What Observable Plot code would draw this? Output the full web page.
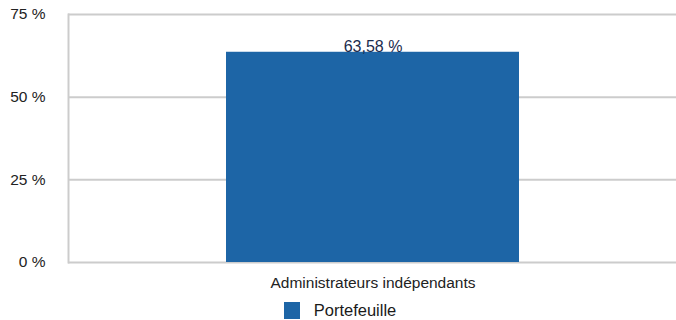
<!DOCTYPE html>
<html>
<head>
<meta charset="utf-8">
<script src="https://cdn.jsdelivr.net/npm/d3@7"></script>
<script src="https://cdn.jsdelivr.net/npm/@observablehq/plot@0.6"></script>
<style>
  html, body { margin: 0; padding: 0; background: #fff; }
  body { width: 676px; height: 320px; overflow: hidden; font-family: "Liberation Sans", Arial, sans-serif; }
  #legend { display: flex; justify-content: center; align-items: center; height: 20px; margin-top: 0px; padding-left: 4px; }
  #legend .sw { width: 16px; height: 17px; margin-right: 14px; }
  #legend .lb { font-size: 16.5px; color: #1a1a1a; }
</style>
</head>
<body>
<div id="chart"></div>
<div id="legend"></div>
<script>
const categories = ["Administrateurs indépendants"];
const seriesName = "Portefeuille";
const values = [63.58];
const yTicks = [0, 25, 50, 75];
const barColor = "#1d65a6";

const data = categories.map((c, i) => ({category: c, value: values[i]}));
const fmtPct = d => d3.format(".2f")(d).replace(".", ",") + " %";

const chart = Plot.plot({
  width: 676,
  height: 300,
  marginLeft: 68,
  marginRight: 0,
  marginTop: 14,
  marginBottom: 38,
  style: {fontFamily: "'Liberation Sans', Arial, sans-serif", color: "#222", background: "#fff"},
  x: {domain: categories, padding: 0.35, label: null},
  y: {domain: [0, 75], label: null},
  marks: [
    Plot.gridY(yTicks, {stroke: "#cccccc", strokeOpacity: 1, strokeWidth: 2}),
    Plot.frame({anchor: "left", stroke: "#cccccc", strokeWidth: 2}),
    Plot.barY(data, {x: "category", y: "value", fill: barColor}),
    Plot.text(data, {x: "category", y: "value", text: d => fmtPct(d.value), lineAnchor: "bottom", dy: 0, fill: "#1b2c4e", fontSize: 16}),
    Plot.axisY({ticks: yTicks, tickSize: 0, tickPadding: 23, tickFormat: d => d + " %", fontSize: 15.5, fill: "#222"}),
    Plot.axisX({tickSize: 0, tickPadding: 14, fontSize: 15.5, fill: "#222"})
  ]
});
document.getElementById("chart").appendChild(chart);

const lg = document.getElementById("legend");
const sw = document.createElement("div");
sw.className = "sw";
sw.style.background = barColor;
const lb = document.createElement("span");
lb.className = "lb";
lb.textContent = seriesName;
lg.appendChild(sw);
lg.appendChild(lb);
</script>
</body>
</html>
